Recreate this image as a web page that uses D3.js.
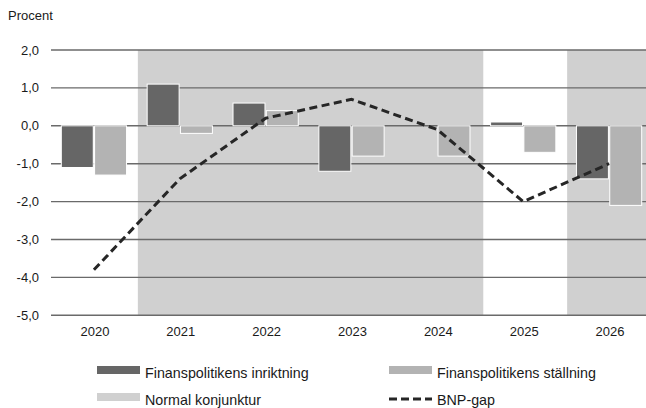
<!DOCTYPE html>
<html>
<head>
<meta charset="utf-8">
<script src="https://cdn.jsdelivr.net/npm/d3@7"></script>
<style>
  html, body { margin: 0; padding: 0; background: #ffffff; }
  svg { display: block; }
  text { font-family: "Liberation Sans", Arial, sans-serif; fill: #1a1a1a; }
</style>
</head>
<body>
<svg id="chart" width="646" height="408"></svg>
<script>
// ---- data ----
const years = ["2020", "2021", "2022", "2023", "2024", "2025", "2026"];
const inriktning = [-1.1, 1.1, 0.6, -1.2, 0.0, 0.1, -1.4];
const stallning = [-1.3, -0.2, 0.4, -0.8, -0.8, -0.7, -2.1];
const bnpGap = [-3.8, -1.4, 0.2, 0.7, -0.1, -2.0, -1.0];
const normalPeriods = [["2021", "2024"], ["2026", "2026"]];
const yTicks = [-5, -4, -3, -2, -1, 0, 1, 2];
const seriesNames = ["Finanspolitikens inriktning", "Finanspolitikens ställning", "Normal konjunktur", "BNP-gap"];

// ---- styles ----
const cDark = "#666666", cLight = "#b3b3b3", cShade = "#d0d0d0", cGrid = "#6a6a6a", cLine = "#262626";

const svg = d3.select("#chart");
const x = d3.scaleBand().domain(years).range([51, 652]).paddingInner(0).paddingOuter(0);
const bw = x.bandwidth();
const x1 = d3.scaleBand().domain(["inr", "stal"]).range([bw * 0.12, bw * 0.88]).paddingInner(0.04);
const y = d3.scaleLinear().domain([-5, 2]).range([315.3, 50]);

// shading (normal konjunktur)
svg.append("g").selectAll("rect").data(normalPeriods).join("rect")
  .attr("x", d => x(d[0]) + 1)
  .attr("width", d => x(d[1]) + bw - x(d[0]) - 1 + (d[1] === "2024" ? 3 : 0))
  .attr("y", y(2))
  .attr("height", y(-5) - y(2))
  .attr("fill", cShade);

// gridlines
svg.append("g").selectAll("line").data(yTicks).join("line")
  .attr("x1", 51).attr("x2", 646)
  .attr("y1", d => y(d)).attr("y2", d => y(d))
  .attr("stroke", cGrid).attr("stroke-width", 1.4);

// y tick labels
svg.append("g").selectAll("text").data(yTicks).join("text")
  .attr("x", 39).attr("y", d => y(d) + 4.5)
  .attr("text-anchor", "end")
  .attr("font-size", 13)
  .text(d => d.toFixed(1).replace(".", ","));

// title
svg.append("text").attr("x", 8).attr("y", 20).attr("font-size", 13).text("Procent");

// bars
const barData = years.map((yr, i) => [
  { yr, key: "inr", v: inriktning[i], c: cDark },
  { yr, key: "stal", v: stallning[i], c: cLight }
]).flat();
svg.append("g").selectAll("rect").data(barData).join("rect")
  .attr("x", d => x(d.yr) + x1(d.key))
  .attr("width", x1.bandwidth())
  .attr("y", d => y(Math.max(0, d.v)))
  .attr("height", d => Math.abs(y(d.v) - y(0)))
  .attr("fill", d => d.c)
  .attr("stroke", d => d.v === 0 ? "none" : "#ffffff")
  .attr("stroke-width", 1);

// x labels
svg.append("g").selectAll("text").data(years).join("text")
  .attr("x", d => x(d) + bw / 2 + 1)
  .attr("y", 336)
  .attr("text-anchor", "middle")
  .attr("font-size", 13)
  .text(d => d);

// BNP-gap line
const line = d3.line()
  .x((d, i) => x(years[i]) + bw / 2)
  .y(d => y(d));
svg.append("path").datum(bnpGap)
  .attr("d", line)
  .attr("fill", "none")
  .attr("stroke", cLine)
  .attr("stroke-width", 3)
  .attr("stroke-dasharray", "8,4.5");

// legend
const lg = svg.append("g");
const legendItems = [
  { name: seriesNames[0], type: "rect", c: cDark, sx: 97, ty: 378 },
  { name: seriesNames[1], type: "rect", c: cLight, sx: 389, ty: 378 },
  { name: seriesNames[2], type: "rect", c: cShade, sx: 97, ty: 405 },
  { name: seriesNames[3], type: "line", c: cLine, sx: 389, ty: 405 }
];
legendItems.forEach(it => {
  if (it.type === "rect") {
    lg.append("rect").attr("x", it.sx).attr("y", it.ty - 12).attr("width", 43).attr("height", 8).attr("fill", it.c);
  } else {
    lg.append("line").attr("x1", it.sx).attr("x2", it.sx + 43)
      .attr("y1", it.ty - 6).attr("y2", it.ty - 6)
      .attr("stroke", it.c).attr("stroke-width", 3).attr("stroke-dasharray", "8,4");
  }
  lg.append("text").attr("x", it.sx + 48).attr("y", it.ty).attr("font-size", 14.3).text(it.name);
});
</script>
</body>
</html>
